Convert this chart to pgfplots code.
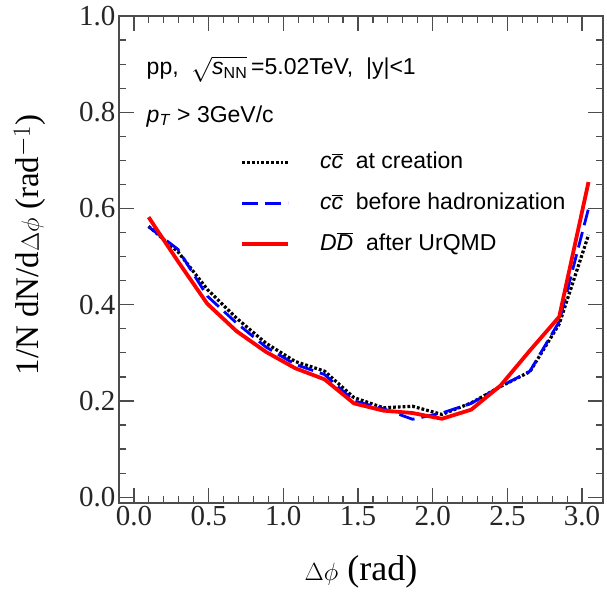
\documentclass[border=0pt]{standalone}
\usepackage{fontspec}
\setmainfont{Liberation Serif}
\newfontfamily\arial{Liberation Sans}
\usepackage{pgfplots}
\pgfplotsset{compat=1.18}
\begin{document}
\begin{tikzpicture}
\begin{axis}[
  at={(0pt,0pt)}, anchor=south west,
  scale only axis, width=484pt, height=487pt,
  xmin=-0.1, xmax=3.14, ymin=-0.012, ymax=1.0,
  xtick={0,0.5,1,1.5,2,2.5,3}, ytick={0,0.2,0.4,0.6,0.8,1.0},
  minor x tick num=4, minor y tick num=3,
  tick align=inside, major tick length=15pt, minor tick length=7pt,
  xticklabel style={/pgf/number format/.cd, fixed, fixed zerofill, precision=1},
  yticklabel style={/pgf/number format/.cd, fixed, fixed zerofill, precision=1},
  /pgf/number format/assume math mode=true,
  tick label style={font=\fontsize{29}{29}\selectfont, black!85},
  axis line style={line width=1.8pt, black!70},
  every tick/.style={line width=1.2pt, black!70},
  xlabel={$\Delta\phi$ (rad)},
  ylabel={1/N dN/d$\Delta\phi$ (rad$^{-1}$)},
  xlabel style={at={(axis description cs:0.5,-0.142)}, anchor=center, font=\fontsize{36}{36}\selectfont},
  ylabel style={at={(axis description cs:-0.184,0.53)}, anchor=center, font=\fontsize{33}{33}\selectfont},
  legend image code/.code={\draw[#1] (0pt,0pt) -- (46pt,0pt);},
  legend style={at={(axis description cs:0.244,0.727)}, anchor=north west, draw=none, fill=none,
    font=\arial\fontsize{23}{23}\selectfont, row sep=19pt,
    nodes={text height=17pt, text depth=5pt, inner sep=0pt},
    /tikz/every odd column/.style={column sep=30pt}},
  legend cell align=left,
]
\addplot[black, line width=3.2pt, dash pattern=on 2.8pt off 2pt] coordinates {
(0.098,0.563) (0.295,0.510) (0.491,0.432) (0.687,0.372) (0.884,0.320) (1.080,0.282)
(1.276,0.262) (1.473,0.207) (1.669,0.186) (1.865,0.189) (2.062,0.172) (2.258,0.196)
(2.454,0.230) (2.651,0.261) (2.847,0.360) (3.043,0.545)};
\addlegendentry{$\hbox{\itshape c}\overline{\hbox{\itshape c}}$\ \ at creation}
\addplot[blue, line width=2.8pt, dash pattern=on 16pt off 7pt] coordinates {
(0.098,0.562) (0.295,0.515) (0.491,0.418) (0.687,0.362) (0.884,0.312) (1.080,0.276)
(1.276,0.255) (1.473,0.200) (1.669,0.184) (1.865,0.162) (2.062,0.175) (2.258,0.195)
(2.454,0.230) (2.651,0.262) (2.847,0.365) (3.043,0.600)};
\addlegendentry{$\hbox{\itshape c}\overline{\hbox{\itshape c}}$\ \ before hadronization}
\addplot[red, line width=3.8pt] coordinates {
(0.098,0.582) (0.295,0.490) (0.491,0.402) (0.687,0.345) (0.884,0.302) (1.080,0.268)
(1.276,0.245) (1.473,0.195) (1.669,0.180) (1.865,0.175) (2.062,0.163) (2.258,0.182)
(2.454,0.232) (2.651,0.305) (2.847,0.375) (3.043,0.655)};
\addlegendentry{$\hbox{\itshape D}\overline{\hbox{\itshape D}}$\ \ after UrQMD}
\node[anchor=base west, font=\arial\fontsize{23}{23}\selectfont] at (axis description cs:0.05,0.879)
  {pp,\ \ $\sqrt{\hbox{\itshape s}_{\hbox{\fontsize{16}{16}\selectfont NN}}}$\,=5.02TeV, \ |y|<1};
\node[anchor=base west, font=\arial\fontsize{23}{23}\selectfont] at (axis description cs:0.05,0.782)
  {\textit{p}\textsubscript{\textit{T}} > 3GeV/c};
\end{axis}
\pgfresetboundingbox
\path[use as bounding box] (-119pt,-90pt) rectangle (488pt,503pt);
\end{tikzpicture}
\end{document}
